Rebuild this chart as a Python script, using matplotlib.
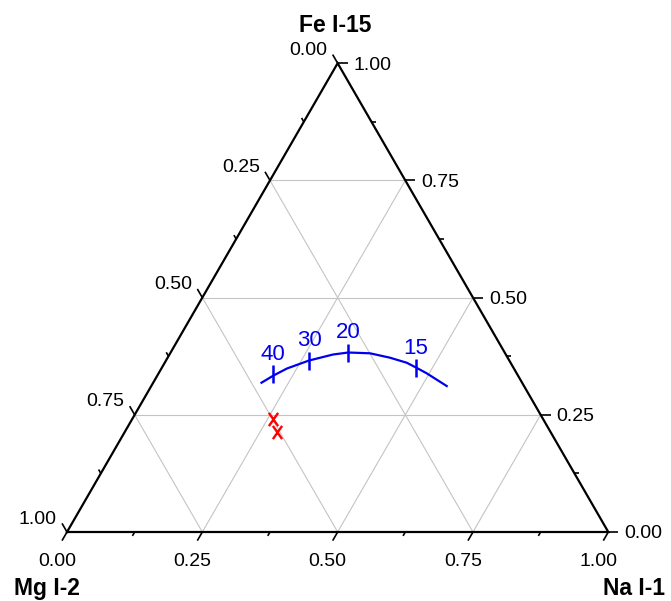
import numpy as np
import matplotlib
matplotlib.use('Agg')
import matplotlib.pyplot as plt
from matplotlib.path import Path

plt.rcParams['font.family'] = ['Liberation Sans', 'DejaVu Sans']

# ---------------- data (ternary fractions: Mg = 1 - Na - Fe) ----------------
comp_left = 'Mg I-2'
comp_right = 'Na I-1'
comp_top = 'Fe I-15'

curve_na = [0.2001, 0.2146, 0.2320, 0.2642, 0.3021, 0.3282, 0.3692, 0.4108,
            0.4470, 0.4693, 0.4953, 0.5458]
curve_fe = [0.3185, 0.3338, 0.3488, 0.3658, 0.3786, 0.3829, 0.3812, 0.3718,
            0.3611, 0.3509, 0.3385, 0.3114]

mark_labels = ['40', '30', '20', '15']
mark_na = [0.2128, 0.2642, 0.3285, 0.4701]
mark_fe = [0.3366, 0.3658, 0.3823, 0.3492]

obs_na = [0.2598, 0.2804]
obs_fe = [0.2404, 0.2140]

major_vals = [0.0, 0.25, 0.5, 0.75, 1.0]
major_labels = ['0.00', '0.25', '0.50', '0.75', '1.00']
minor_vals = [0.125, 0.375, 0.625, 0.875]
grid_vals = [0.25, 0.5, 0.75]

# ---------------- helpers ----------------
H = np.sqrt(3) / 2


def tern(na, fe):
    na = np.asarray(na, dtype=float)
    fe = np.asarray(fe, dtype=float)
    return na + fe / 2.0, fe * H


W, Hf = 671, 601
S = 541.3          # pixels per unit side
L = 67.0           # left vertex x pixel
B = 601 - 532.0    # bottom edge y pixel from bottom

fig = plt.figure(figsize=(W / 100, Hf / 100), dpi=100)
ax = fig.add_axes([0, 0, 1, 1])
ax.set_xlim(-L / S, (W - L) / S)
ax.set_ylim(-B / S, (Hf - B) / S)
ax.set_aspect('equal')
ax.axis('off')

px = 1.0 / S
blue = '#0000ee'
red = '#ff0000'
gridc = '#c4c4c4'

# grid lines
for v in grid_vals:
    x, y = tern([0, 1 - v], [v, v])          # Fe = v
    ax.plot(x, y, color=gridc, lw=0.8, zorder=1)
    x, y = tern([v, v], [0, 1 - v])          # Na = v
    ax.plot(x, y, color=gridc, lw=0.8, zorder=1)
    x, y = tern([1 - v, 0], [0, 1 - v])      # Mg = v
    ax.plot(x, y, color=gridc, lw=0.8, zorder=1)

# triangle
tx, ty = tern([0, 1, 0, 0], [0, 0, 1, 0])
ax.plot(tx, ty, color='black', lw=1.6, zorder=3, solid_joinstyle='miter')

fs_tick = 14
major_len = 10 * px
minor_len = 4.5 * px


def draw_tick(x0, y0, dx, dy, length):
    ax.plot([x0, x0 + dx * length], [y0, y0 + dy * length], color='black',
            lw=1.2, zorder=3, solid_capstyle='butt')


# bottom axis (Na)
for v, lab in zip(major_vals, major_labels):
    x0, y0 = tern(v, 0)
    draw_tick(x0, y0, -0.5, -H, major_len)
    ax.annotate(lab, (x0, y0), xytext=(-10, -27), textcoords='offset pixels',
                ha='center', va='center_baseline', fontsize=fs_tick)
for v in minor_vals:
    x0, y0 = tern(v, 0)
    draw_tick(x0, y0, -0.5, -H, minor_len)

# right axis (Fe)
for v, lab in zip(major_vals, major_labels):
    x0, y0 = tern(1 - v, v)
    draw_tick(x0, y0, 1.0, 0.0, major_len)
    ax.annotate(lab, (x0, y0), xytext=(16, 0), textcoords='offset pixels',
                ha='left', va='center_baseline', fontsize=fs_tick)
for v in minor_vals:
    x0, y0 = tern(1 - v, v)
    draw_tick(x0, y0, 1.0, 0.0, minor_len)

# left axis (Mg)
for v, lab in zip(major_vals, major_labels):
    x0, y0 = tern(0, 1 - v)
    draw_tick(x0, y0, -0.5, H, major_len)
    ax.annotate(lab, (x0, y0), xytext=(-29, 15), textcoords='offset pixels',
                ha='center', va='center_baseline', fontsize=fs_tick)
for v in minor_vals:
    x0, y0 = tern(0, 1 - v)
    draw_tick(x0, y0, -0.5, H, minor_len)

# component names
fs_name = 16.5
x0, y0 = tern(0, 0)
ax.annotate(comp_left, (x0, y0), xytext=(-20, -54), textcoords='offset pixels',
            ha='center', va='center_baseline', fontsize=fs_name, fontweight='bold')
x0, y0 = tern(1, 0)
ax.annotate(comp_right, (x0, y0), xytext=(-5, -54), textcoords='offset pixels',
            ha='left', va='center_baseline', fontsize=fs_name, fontweight='bold')
x0, y0 = tern(0, 1)
ax.annotate(comp_top, (x0, y0), xytext=(-2, 40), textcoords='offset pixels',
            ha='center', va='center_baseline', fontsize=fs_name, fontweight='bold')

# blue curve with labelled marks
cx, cy = tern(curve_na, curve_fe)
ax.plot(cx, cy, color=blue, lw=1.6, zorder=4)
mx, my = tern(mark_na, mark_fe)
ax.plot(mx, my, ls='none', marker='|', ms=13, mew=1.8, color=blue, zorder=5)
for x, y, lab in zip(mx, my, mark_labels):
    ax.annotate(lab, (x, y), xytext=(0, 14.5), textcoords='offset pixels',
                ha='center', va='baseline', fontsize=16, color=blue)

# red observed points
xmark = Path([(-0.7, -1), (0.7, 1), (-0.7, 1), (0.7, -1)],
             [Path.MOVETO, Path.LINETO, Path.MOVETO, Path.LINETO])
ox, oy = tern(obs_na, obs_fe)
ax.plot(ox, oy, ls='none', marker=xmark, ms=9.5, mew=1.7, color=red, zorder=6)

fig.savefig('out.png', dpi=100)
